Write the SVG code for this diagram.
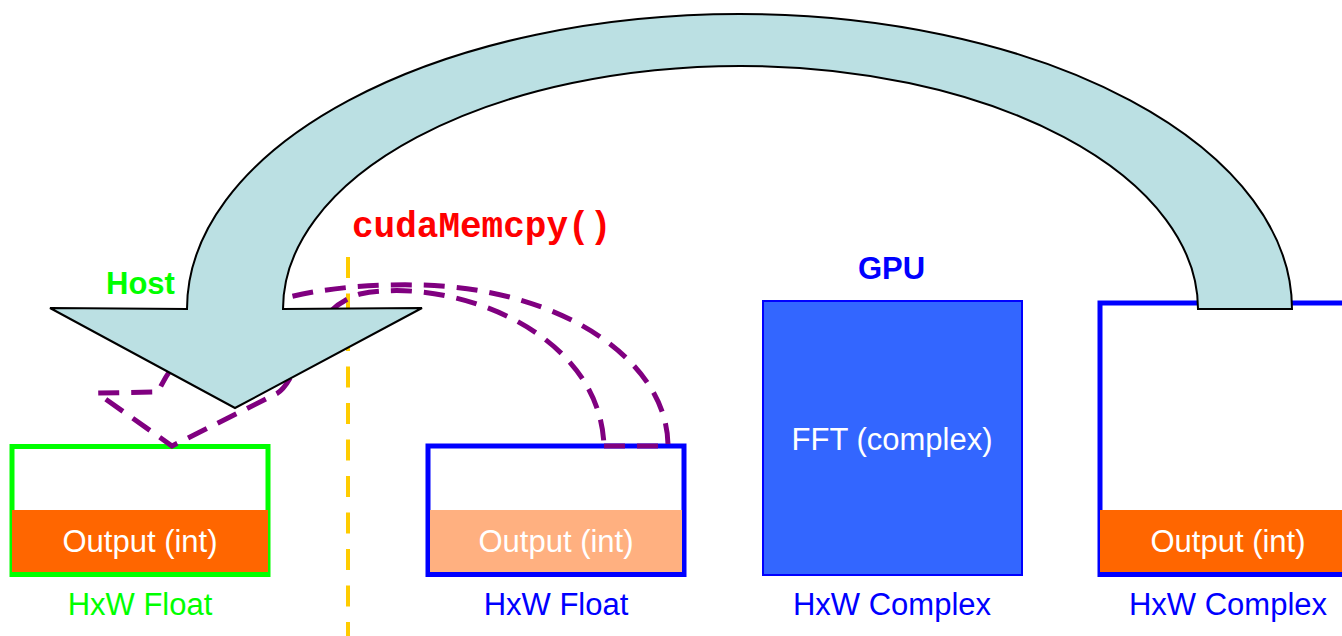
<svg xmlns="http://www.w3.org/2000/svg" width="1342" height="636" viewBox="0 0 1342 636">
  <style>
    .lbl { font-family: "Liberation Sans", Arial, sans-serif; font-size: 31px; text-anchor: middle; }
    .bold { font-weight: bold; }
    .white { fill: #FFFFFF; }
    .green { fill: #00FF00; }
    .blue { fill: #0000FF; }
    .code { font-family: "Liberation Mono", "Courier New", monospace; font-size: 36px; font-weight: bold; fill: #FF0000; }
    .frame { fill: #FFFFFF; stroke-width: 5; }
    .out { fill: #FF6600; }
    .copy { fill: none; stroke: #800080; stroke-width: 5; stroke-dasharray: 21 12; stroke-linejoin: miter; }
    .divider { fill: none; stroke: #FFCC00; stroke-width: 4; stroke-dasharray: 21 15.5; }
    .bigarrow { fill: #BBE0E3; stroke: #000000; stroke-width: 2; stroke-linejoin: miter; }
  </style>

  <rect width="1342" height="636" fill="#FFFFFF"/>

  <!-- host buffer -->
  <g id="host-buffer">
    <rect class="frame" x="12" y="446.5" width="256" height="128" stroke="#00FF00"/>
    <rect class="out" x="12" y="510" width="256" height="62"/>
    <text class="lbl white" x="140" y="552">Output (int)</text>
    <text class="lbl green" x="140" y="615">HxW Float</text>
  </g>

  <!-- device float buffer -->
  <g id="gpu-float">
    <rect class="frame" x="428" y="446" width="256" height="128.5" stroke="#0000FF"/>
    <rect x="430" y="510" width="252" height="62" fill="#FFB080"/>
    <text class="lbl white" x="556" y="552">Output (int)</text>
    <text class="lbl blue" x="556" y="615">HxW Float</text>
  </g>

  <!-- FFT kernel -->
  <g id="fft">
    <rect x="763" y="301" width="259" height="274" fill="#3366FF" stroke="#0000FF" stroke-width="2"/>
    <text class="lbl white" x="892" y="450">FFT (complex)</text>
    <text class="lbl blue" x="892" y="615">HxW Complex</text>
  </g>

  <!-- device complex buffer -->
  <g id="gpu-complex">
    <rect class="frame" x="1100" y="303" width="260" height="271.5" stroke="#0000FF"/>
    <rect class="out" x="1100" y="510" width="250" height="62"/>
    <text class="lbl white" x="1228" y="552">Output (int)</text>
    <text class="lbl blue" x="1228" y="615">HxW Complex</text>
  </g>

  <!-- connectors -->
  <g id="connectors">
    <line class="divider" x1="348" y1="257" x2="348" y2="636"/>
    <path class="copy" d="M 604,446 L 668,446 C 668,360 560,288 420,285 C 320,283 200,300 158,392 L 97,393 L 172,446 L 276,394 C 300,382 305,310 360,294 C 450,276 600,330 604,446 Z"/>
    <path id="loop-arrow" class="bigarrow" d="M 1292,309 A 552.5,295 0 0 0 187,309 L 50,308 L 235,408 L 422,308 L 283,309 A 457.5,243 0 0 1 1198,309 Z"/>
  </g>

  <!-- titles -->
  <g id="titles">
    <text class="lbl bold green" x="140.5" y="294">Host</text>
    <text class="lbl bold blue" x="891.5" y="279">GPU</text>
    <text class="code" x="352" y="237">cudaMemcpy()</text>
  </g>
</svg>
